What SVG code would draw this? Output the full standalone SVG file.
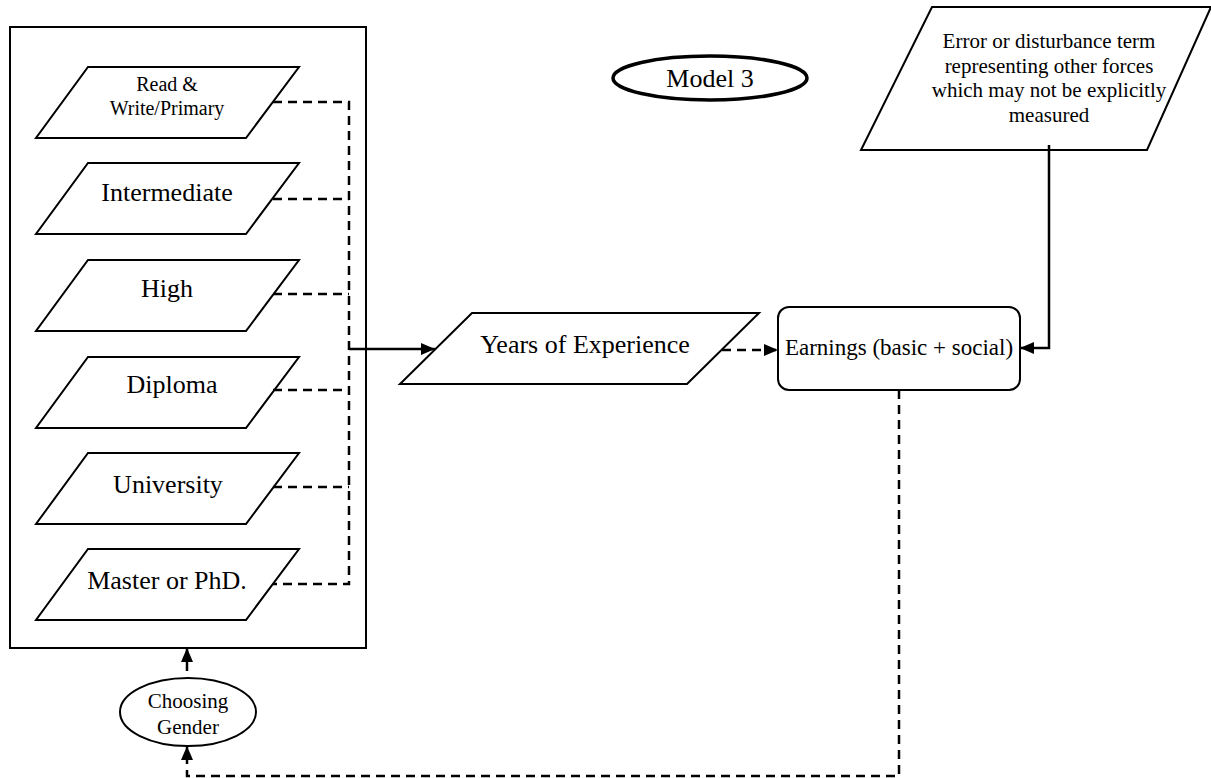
<svg xmlns="http://www.w3.org/2000/svg" width="1211" height="778" viewBox="0 0 1211 778">
<style>
.s{fill:#fff;stroke:#000;stroke-width:2}
.t{font-family:"Liberation Serif","Times New Roman",serif;fill:#000;text-anchor:middle}
.c{fill:none;stroke:#000;stroke-width:2.5}
.d{fill:none;stroke:#000;stroke-width:2.5;stroke-dasharray:9,6}
</style>
<defs>
<marker id="ah" markerUnits="userSpaceOnUse" markerWidth="14" markerHeight="12" refX="14" refY="6" orient="auto">
<path d="M0,0 L14,6 L0,12 Z" fill="#000"/>
</marker>
</defs>
<rect id="group-box" x="10" y="27" width="356" height="621" class="s"/>
<g id="n-read">
<polygon class="s" points="88,67 299,67 246,138 36,138"/>
<text class="t" x="167" y="91" font-size="20">Read &amp;</text>
<text class="t" x="167" y="115" font-size="20">Write/Primary</text>
</g>
<g id="n-intermediate">
<polygon class="s" points="88,163 299,163 246,234 36,234"/>
<text class="t" x="167" y="201" font-size="26">Intermediate</text>
</g>
<g id="n-high">
<polygon class="s" points="88,260 299,260 246,331 36,331"/>
<text class="t" x="167" y="297" font-size="26">High</text>
</g>
<g id="n-diploma">
<polygon class="s" points="88,357 299,357 246,428 36,428"/>
<text class="t" x="172" y="393" font-size="26">Diploma</text>
</g>
<g id="n-university">
<polygon class="s" points="88,453 299,453 246,524 36,524"/>
<text class="t" x="168" y="493" font-size="26">University</text>
</g>
<g id="n-master">
<polygon class="s" points="88,549 299,549 246,620 36,620"/>
<text class="t" x="167" y="589" font-size="26">Master or PhD.</text>
</g>
<g id="n-model">
<ellipse cx="710" cy="78" rx="97" ry="22" fill="#fff" stroke="#000" stroke-width="3.5"/>
<text class="t" x="710" y="87" font-size="26">Model 3</text>
</g>
<g id="n-years">
<polygon class="s" points="472,313 759,313 687,384 400,384"/>
<text class="t" x="585" y="353" font-size="26">Years of Experience</text>
</g>
<g id="n-earnings">
<rect class="s" x="778" y="307" width="242" height="83" rx="11"/>
<text class="t" x="899" y="355" font-size="23">Earnings (basic + social)</text>
</g>
<g id="n-error">
<polygon class="s" points="932,7 1211,7 1147,150 861,150"/>
<text class="t" x="1049" y="48" font-size="21">Error or disturbance term</text>
<text class="t" x="1049" y="73" font-size="21">representing other forces</text>
<text class="t" x="1049" y="97" font-size="21">which may not be explicitly</text>
<text class="t" x="1049" y="122" font-size="21">measured</text>
</g>
<g id="n-gender">
<ellipse class="s" cx="188" cy="712" rx="68" ry="34"/>
<text class="t" x="188" y="708" font-size="21">Choosing</text>
<text class="t" x="188" y="734" font-size="21">Gender</text>
</g>
<g id="connectors">
<path class="d" d="M273,102 H349 V584 H273"/>
<path class="d" d="M273,199 H349"/>
<path class="d" d="M273,294 H349"/>
<path class="d" d="M273,390 H349"/>
<path class="d" d="M273,487 H349"/>
<path class="c" d="M349,349 H435" marker-end="url(#ah)"/>
<path class="d" d="M722,350 H778" marker-end="url(#ah)"/>
<path class="c" d="M1049,145 V348 H1020" marker-end="url(#ah)"/>
<path class="d" d="M899,390 V776 H187 V746" marker-end="url(#ah)"/>
<path class="c" d="M187,671 V648" marker-end="url(#ah)"/>
</g>
</svg>
